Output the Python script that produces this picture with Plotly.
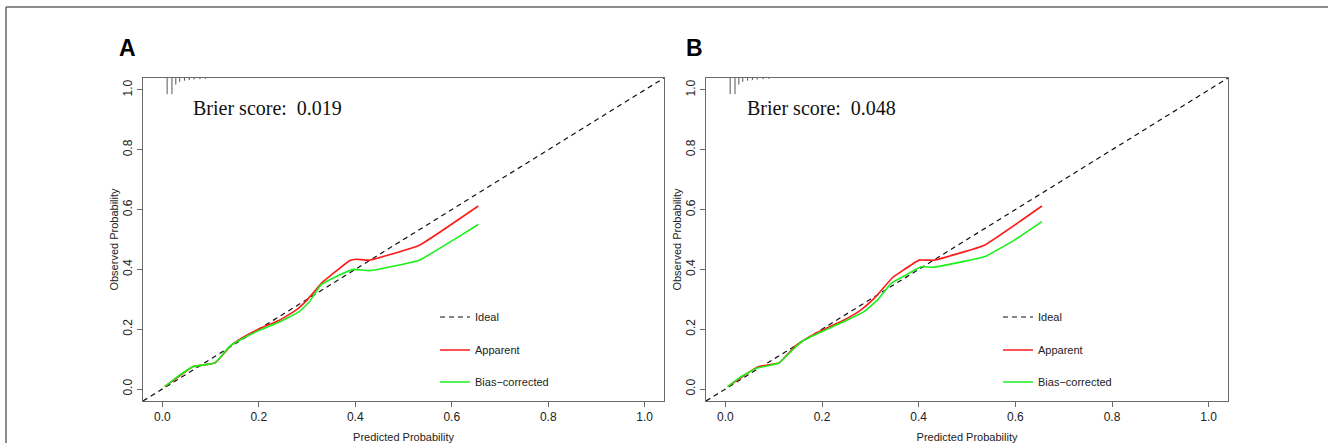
import plotly.graph_objects as go

W, H = 1328, 443

# ---------------- data ----------------
ideal_x = [-0.04, 1.04]
ideal_y = [-0.04, 1.04]

# Panel A
a_app_x = [0.005, 0.030, 0.064, 0.109, 0.144, 0.161, 0.199, 0.244, 0.278, 0.298, 0.333, 0.350, 0.388, 0.402, 0.429, 0.533, 0.655]
a_app_y = [0.008, 0.037, 0.075, 0.087, 0.148, 0.167, 0.200, 0.231, 0.265, 0.294, 0.359, 0.381, 0.429, 0.434, 0.431, 0.481, 0.612]
a_bc_x = [0.005, 0.030, 0.064, 0.109, 0.139, 0.161, 0.199, 0.244, 0.284, 0.305, 0.329, 0.361, 0.396, 0.430, 0.533, 0.603, 0.655]
a_bc_y = [0.008, 0.040, 0.075, 0.087, 0.142, 0.164, 0.195, 0.225, 0.259, 0.292, 0.348, 0.376, 0.400, 0.396, 0.431, 0.498, 0.550]

# Panel B
b_app_x = [0.005, 0.031, 0.069, 0.111, 0.145, 0.169, 0.204, 0.246, 0.280, 0.308, 0.346, 0.363, 0.401, 0.432, 0.536, 0.655]
b_app_y = [0.008, 0.037, 0.075, 0.087, 0.144, 0.170, 0.200, 0.231, 0.264, 0.303, 0.373, 0.392, 0.431, 0.431, 0.481, 0.612]
b_bc_x = [0.005, 0.031, 0.066, 0.111, 0.145, 0.163, 0.204, 0.246, 0.287, 0.315, 0.343, 0.370, 0.405, 0.429, 0.536, 0.598, 0.655]
b_bc_y = [0.008, 0.040, 0.070, 0.087, 0.140, 0.164, 0.195, 0.226, 0.259, 0.298, 0.353, 0.378, 0.409, 0.407, 0.442, 0.498, 0.560]

# distribution of predicted risk (rug at top): positions and tick bottoms
rug_x = [0.010, 0.020, 0.028, 0.036, 0.046, 0.056, 0.066, 0.078, 0.090]
rug_bottom = [0.986, 0.986, 1.018, 1.027, 1.031, 1.033, 1.035, 1.036, 1.037]
rug_top = 1.04

brier_a = "Brier score:  0.019"
brier_b = "Brier score:  0.048"
panel_labels = ["A", "B"]
tick_vals = [0.0, 0.2, 0.4, 0.6, 0.8, 1.0]

# ---------------- layout geometry (pixels) ----------------
def px(x):
    return x / W

def py(y):
    return 1 - y / H

dom_a = [px(143), px(664)]
dom_b = [px(706), px(1228)]
dom_y = [py(401), py(78)]

RED = "#FF1A1A"
GREEN = "#1AF01A"
AX = "#6a6a6a"
TXT = "#222222"
SANS = "Liberation Sans, Arial, Helvetica, sans-serif"
SERIF = "Liberation Serif, Times New Roman, serif"

fig = go.Figure()


def rug_xy(xs, bottoms):
    rx, ry = [], []
    for x, b in zip(xs, bottoms):
        rx += [x, x, None]
        ry += [b, rug_top, None]
    return rx, ry


def add_panel(xa, ya, app_x, app_y, bc_x, bc_y, legs):
    fig.add_trace(go.Scatter(x=ideal_x, y=ideal_y, mode="lines", name="Ideal",
                             line=dict(color="#111111", width=1.2, dash="5px,4px"),
                             xaxis=xa, yaxis=ya, legend=legs[0]))
    fig.add_trace(go.Scatter(x=app_x, y=app_y, mode="lines", name="Apparent",
                             line=dict(color=RED, width=1.6, shape="spline", smoothing=0.3),
                             xaxis=xa, yaxis=ya, legend=legs[1]))
    fig.add_trace(go.Scatter(x=bc_x, y=bc_y, mode="lines", name="Bias\u2212corrected",
                             line=dict(color=GREEN, width=1.6, shape="spline", smoothing=0.3),
                             xaxis=xa, yaxis=ya, legend=legs[2]))
    rx, ry = rug_xy(rug_x, rug_bottom)
    fig.add_trace(go.Scatter(x=rx, y=ry, mode="lines", showlegend=False,
                             line=dict(color="#555555", width=1), xaxis=xa, yaxis=ya,
                             hoverinfo="skip"))


add_panel("x", "y", a_app_x, a_app_y, a_bc_x, a_bc_y, ["legend", "legend2", "legend3"])
add_panel("x2", "y2", b_app_x, b_app_y, b_bc_x, b_bc_y, ["legend4", "legend5", "legend6"])

axis_common = dict(range=[-0.04, 1.04], tickvals=tick_vals, tickformat=".1f",
                   showline=True, linecolor=AX, linewidth=1, mirror=True,
                   ticks="outside", ticklen=5, tickcolor=AX, tickwidth=1,
                   showgrid=False, zeroline=False,
                   tickfont=dict(family=SANS, size=12, color=TXT))

xt = dict(text="Predicted Probability", font=dict(family=SANS, size=11, color=TXT), standoff=9)
yt = dict(text="Observed Probability", font=dict(family=SANS, size=11, color=TXT), standoff=0)

fig.update_layout(
    width=W, height=H,
    margin=dict(l=0, r=0, t=0, b=0),
    paper_bgcolor="white", plot_bgcolor="white",
    xaxis=dict(domain=dom_a, anchor="y", title=xt, ticklabelstandoff=0, **axis_common),
    yaxis=dict(domain=dom_y, anchor="x", title=yt, tickangle=-90, ticklabelstandoff=0, **axis_common),
    xaxis2=dict(domain=dom_b, anchor="y2", title=xt, ticklabelstandoff=0, **axis_common),
    yaxis2=dict(domain=dom_y, anchor="x2", title=yt, tickangle=-90, ticklabelstandoff=0, **axis_common),
    showlegend=True,
)

leg_font = dict(family=SANS, size=11, color=TXT)
leg_rows = [317, 350, 382]
leg_left = [435, 998]
names = ["legend", "legend2", "legend3", "legend4", "legend5", "legend6"]
i = 0
for lx in leg_left:
    for ly in leg_rows:
        fig.layout[names[i]] = dict(x=px(lx), y=py(ly), xanchor="left", yanchor="middle",
                                     bgcolor="rgba(0,0,0,0)", borderwidth=0, font=leg_font,
                                     itemwidth=30)
        i += 1

# Brier score texts and panel labels
fig.add_annotation(x=px(191), y=py(108), xref="paper", yref="paper", text=brier_a,
                   showarrow=False, xanchor="left", yanchor="middle",
                   font=dict(family=SERIF, size=20, color="#111111"))
fig.add_annotation(x=px(745), y=py(108), xref="paper", yref="paper", text=brier_b,
                   showarrow=False, xanchor="left", yanchor="middle",
                   font=dict(family=SERIF, size=20, color="#111111"))
fig.add_annotation(x=px(117), y=py(48), xref="paper", yref="paper", text="<b>%s</b>" % panel_labels[0],
                   showarrow=False, xanchor="left", yanchor="middle",
                   font=dict(family=SANS, size=23, color="#000000"))
fig.add_annotation(x=px(684), y=py(48), xref="paper", yref="paper", text="<b>%s</b>" % panel_labels[1],
                   showarrow=False, xanchor="left", yanchor="middle",
                   font=dict(family=SANS, size=23, color="#000000"))

# outer figure frame (top and left edges)
fig.add_shape(type="line", xref="paper", yref="paper", x0=px(6), y0=py(7), x1=1, y1=py(7),
              line=dict(color="#666666", width=1.5))
fig.add_shape(type="line", xref="paper", yref="paper", x0=px(6), y0=py(7), x1=px(6), y1=0,
              line=dict(color="#666666", width=1.5))

fig.write_html("out.html", config={"displayModeBar": False},
               post_script="document.body.style.margin='0';document.body.style.overflow='hidden';")
